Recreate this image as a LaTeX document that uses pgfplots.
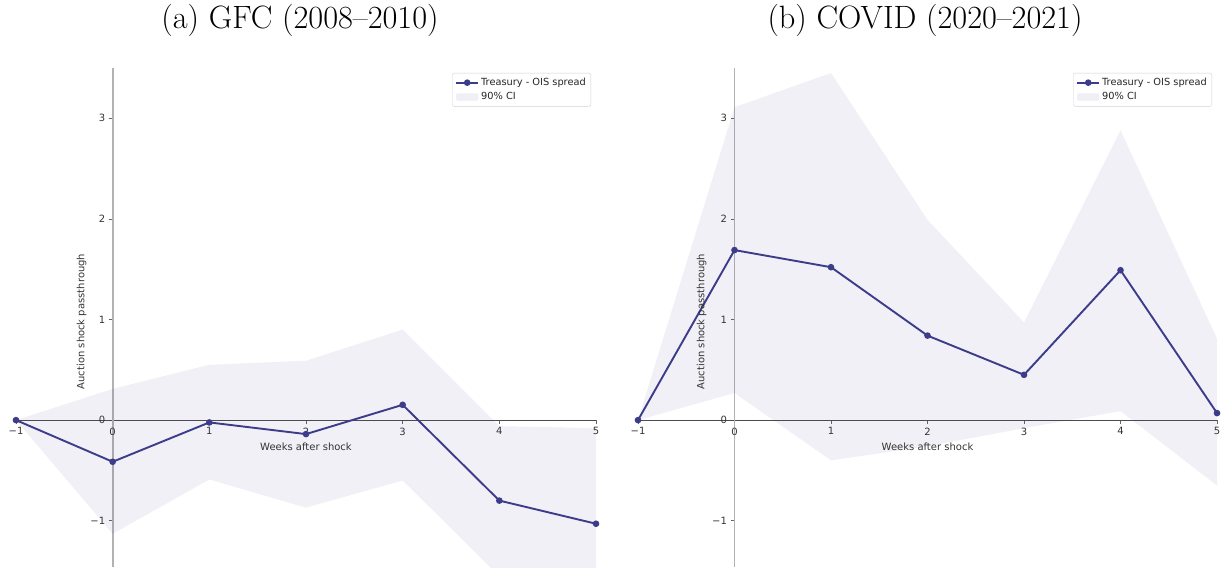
\documentclass[border=0pt]{standalone}
\usepackage{fontspec}
\usepackage{pgfplots}
\pgfplotsset{compat=1.18}
\newfontfamily\dejavu{DejaVu Sans}
\definecolor{lineblue}{RGB}{60,60,138}
\definecolor{bandc}{RGB}{239,239,245}

\pgfplotsset{
 panel/.style={
  scale only axis, height=499pt,
  xmin=-1, xmax=5, ymin=-1.46, ymax=3.5,
  axis x line=middle, axis y line=middle,
  axis line style={-},
  x axis line style={color=black!70, line width=0.9pt},
  y axis line style={color=black!30, line width=1.8pt},
  xtick={-1,0,1,2,3,4,5}, ytick={-1,0,1,2,3},
  xticklabels={−1,0,1,2,3,4,5}, yticklabels={−1,0,1,2,3},
  hide obscured x ticks=false, hide obscured y ticks=false,
  tick align=outside, major tick length=4pt,
  tick style={color=black!60, line width=0.7pt},
  ticklabel style={font=\dejavu\fontsize{10}{12}\selectfont, color=black!80},
  label style={font=\dejavu\fontsize{10}{12}\selectfont, color=black!80},
  title style={font=\fontsize{32.3}{38}\selectfont, anchor=base, at={(axis description cs:0.5,1)}, yshift=33pt},
  legend style={at={(1,1)}, anchor=north east, xshift=-5pt, yshift=-5pt,
    draw=black!18, rounded corners=2pt, font=\dejavu\fontsize{9.8}{12}\selectfont,
    text=black!85, inner xsep=3pt, inner ysep=3pt, row sep=1.5pt, cells={anchor=west}},
  xlabel={Weeks after shock},
  ylabel={Auction shock passthrough},
 },
 ser/.style={color=lineblue, line width=1.9pt, mark=*, mark size=2.3pt,
   legend image code/.code={\draw[mark repeat=2,mark phase=2] plot coordinates {(0pt,0pt) (11pt,0pt) (22pt,0pt)};}},
 band/.style={fill=lineblue, fill opacity=0.08, draw=none, forget plot},
}

\begin{document}
\begin{tikzpicture}
\useasboundingbox (0,0) rectangle (1222pt,567pt);

% ---------- (a) GFC ----------
\begin{axis}[panel, width=580pt, at={(16pt,0pt)}, anchor=south west,
  title={(a) GFC (2008--2010)}, title style={xshift=-6pt},
  xlabel style={at={(axis cs:2,-0.26)}, anchor=center},
  ylabel style={at={(axis cs:-0.32,0.98)}, anchor=center, rotate=90}]
\addplot[band] coordinates {(-1,0)(0,0.31)(1,0.55)(2,0.59)(3,0.90)(4,-0.06)(5,-0.08)
  (5,-1.98)(4,-1.55)(3,-0.60)(2,-0.87)(1,-0.59)(0,-1.13)(-1,0)} -- cycle;
\addplot[ser] coordinates {(-1,0)(0,-0.414)(1,-0.023)(2,-0.139)(3,0.152)(4,-0.80)(5,-1.03)};
\addlegendentry{Treasury - OIS spread}
\addlegendimage{legend image code/.code={\fill[bandc] (0pt,-3.5pt) rectangle (22pt,3.5pt);}}
\addlegendentry{90\% CI}
\end{axis}

% ---------- (b) COVID ----------
\begin{axis}[panel, width=579pt, at={(638pt,0pt)}, anchor=south west,
  title={(b) COVID (2020--2021)}, title style={xshift=-2.5pt},
  xlabel style={at={(axis cs:2,-0.26)}, anchor=center},
  ylabel style={at={(axis cs:-0.34,0.98)}, anchor=center, rotate=90}]
\addplot[band] coordinates {(-1,0)(0,3.11)(1,3.45)(2,1.99)(3,0.97)(4,2.88)(5,0.81)
  (5,-0.65)(4,0.09)(3,-0.08)(2,-0.26)(1,-0.40)(0,0.27)(-1,0)} -- cycle;
\addplot[ser] coordinates {(-1,0)(0,1.69)(1,1.52)(2,0.84)(3,0.45)(4,1.49)(5,0.07)};
\addlegendentry{Treasury - OIS spread}
\addlegendimage{legend image code/.code={\fill[bandc] (0pt,-3.5pt) rectangle (22pt,3.5pt);}}
\addlegendentry{90\% CI}
\end{axis}
\end{tikzpicture}
\end{document}
